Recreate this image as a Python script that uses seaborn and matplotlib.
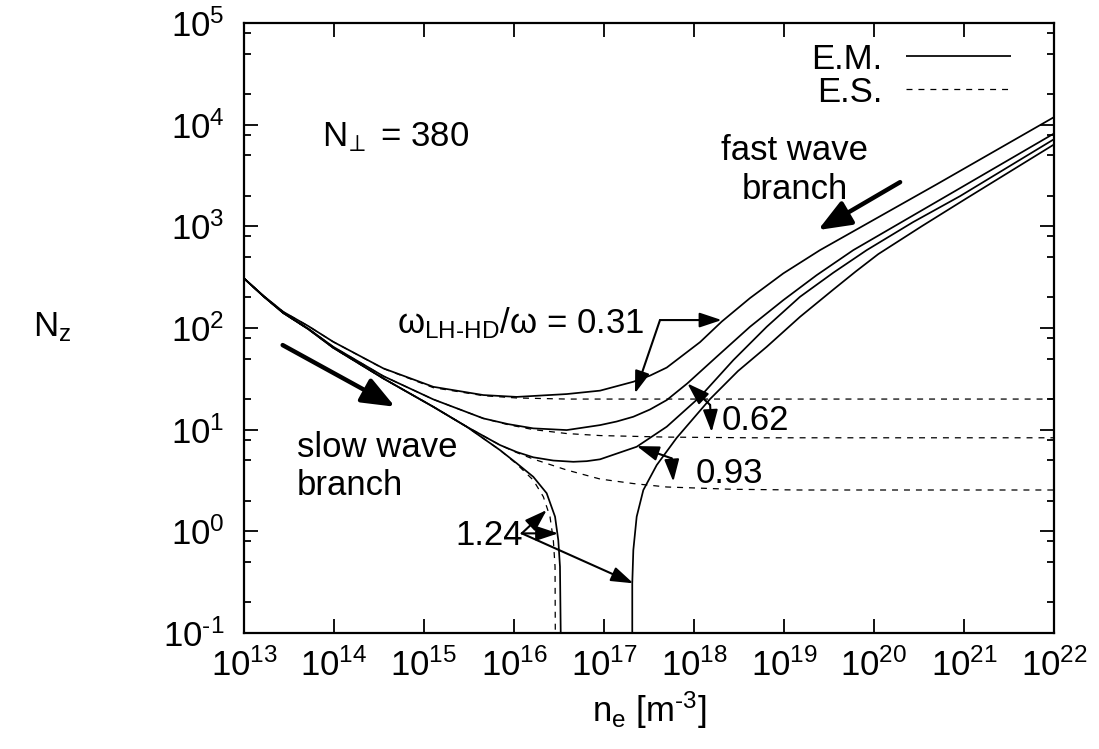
import matplotlib
matplotlib.use("Agg")
import matplotlib.pyplot as plt
from matplotlib.lines import Line2D
from matplotlib.ticker import FixedLocator, FixedFormatter, NullLocator
import seaborn as sns

# ---------------- data ----------------
# electromagnetic (E.M.) solutions, omega_LH-HD/omega = 0.31
em031_ne = [1.0e13, 1.66e13, 2.735e13, 5.18e13, 9.82e13, 3.53e14, 1.268e15, 4.56e15, 1.072e16, 3.855e16,
            9.04e16, 2.118e17, 3.24e17, 4.977e17, 1.167e18, 2.032e18, 4.188e18, 9.82e18, 2.512e19,
            5.012e20, 1.0e22]
em031_nz = [307.6, 206.0, 144.2, 104.5, 73.1, 40.1, 26.4, 21.9, 21.0, 22.4,
            24.2, 29.6, 34.0, 40.8, 72.6, 115.6, 196.8, 344.4, 583.4,
            2600.0, 11860.0]
# omega_LH-HD/omega = 0.62
em062_ne = [1.0e13, 1.66e13, 2.735e13, 5.18e13, 9.82e13, 3.53e14, 1.268e15, 4.56e15, 8.57e15, 1.637e16,
            3.855e16, 9.04e16, 1.384e17, 2.118e17, 3.24e17, 4.977e17, 8.43e17, 1.786e18, 4.188e18,
            9.82e18, 2.307e19, 5.888e19, 7.745e20, 1.0e22]
em062_nz = [307.6, 204.0, 140.9, 98.5, 65.3, 33.65, 19.86, 12.91, 11.35, 10.3,
            9.91, 11.09, 12.03, 13.4, 15.78, 19.54, 28.51, 52.12, 102.8,
            187.9, 331.1, 583.4, 2193.0, 8185.0]
# omega_LH-HD/omega = 0.93
em093_ne = [1.0e13, 1.66e13, 2.735e13, 5.18e13, 9.82e13, 3.53e14, 1.268e15, 2.98e15, 6.98e15, 1.072e16,
            1.637e16, 2.735e16, 4.56e16, 6.43e16, 9.04e16, 2.307e17, 4.977e17, 1.167e18, 2.735e18,
            6.427e18, 1.507e19, 3.532e19, 8.3e19, 2.71e20, 9.04e20, 1.0e22]
em093_nz = [307.6, 203.7, 140.3, 97.5, 63.83, 31.92, 16.79, 10.69, 7.06, 6.03,
            5.35, 4.97, 4.83, 4.90, 5.11, 6.79, 10.69, 21.04, 48.31,
            102.8, 202.8, 350.0, 583.4, 1099.0, 1982.0, 7194.0]
# omega_LH-HD/omega = 1.24, slow-wave branch
em124s_ne = [1.0e13, 1.66e13, 2.735e13, 5.18e13, 9.82e13, 3.53e14, 1.268e15, 2.98e15, 6.98e15, 1.072e16,
             1.637e16, 2.307e16, 2.858e16, 3.105e16, 3.243e16, 3.304e16]
em124s_nz = [307.6, 203.7, 140.3, 97.5, 63.83, 31.92, 16.79, 10.69, 6.30, 4.67,
             3.44, 2.37, 1.393, 0.82, 0.449, 0.1]
# omega_LH-HD/omega = 1.24, fast-wave branch
em124f_ne = [2.061e17, 2.061e17, 2.118e17, 2.307e17, 2.735e17, 3.855e17, 6.427e17, 1.507e18, 3.08e18,
             6.427e18, 1.507e19, 3.532e19, 6.25e19, 1.117e20, 3.41e20, 1.052e21, 1.0e22]
em124f_nz = [0.1, 0.308, 0.655, 1.393, 2.547, 4.487, 8.318, 20.0, 37.7,
             65.31, 128.8, 238.8, 358.9, 533.5, 1005.0, 1871.0, 6383.0]

# electrostatic (E.S.) solutions
es031_ne = [1.0e13, 1.66e13, 2.735e13, 5.18e13, 9.82e13, 3.53e14, 1.268e15, 4.56e15, 1.072e16, 3.855e16,
            1.167e18, 1.0e22]
es031_nz = [307.6, 206.0, 144.2, 104.5, 73.1, 39.9, 25.9, 21.6, 20.5, 20.0, 20.0, 20.0]
es062_ne = [1.0e13, 1.66e13, 2.735e13, 5.18e13, 9.82e13, 3.53e14, 1.268e15, 4.56e15, 8.57e15, 1.637e16,
            3.855e16, 9.04e16, 4.977e17, 4.188e18, 1.0e22]
es062_nz = [307.6, 204.0, 140.9, 98.5, 65.31, 33.65, 19.86, 12.91, 11.2, 10.02,
            9.16, 8.75, 8.45, 8.32, 8.32]
es093_ne = [1.0e13, 1.66e13, 2.735e13, 5.18e13, 9.82e13, 3.53e14, 1.268e15, 2.98e15, 6.98e15, 1.072e16,
            1.637e16, 3.855e16, 9.04e16, 2.118e17, 4.977e17, 2.735e18, 1.507e19, 1.0e22]
es093_nz = [307.6, 203.7, 140.3, 97.5, 63.83, 31.92, 16.79, 10.69, 7.06, 5.95,
            5.14, 4.01, 3.27, 2.95, 2.73, 2.59, 2.55, 2.55]
es124_ne = [1.0e13, 1.66e13, 2.735e13, 5.18e13, 9.82e13, 3.53e14, 1.268e15, 2.98e15, 6.98e15, 1.072e16,
            1.637e16, 2.118e16, 2.512e16, 2.735e16, 2.858e16, 2.877e16]
es124_nz = [307.6, 203.7, 140.3, 97.5, 63.83, 31.92, 16.79, 10.69, 6.30, 4.59,
            3.19, 2.19, 1.393, 0.82, 0.449, 0.1]

# axis ticks
x_tick_exp = [13, 14, 15, 16, 17, 18, 19, 20, 21, 22]
y_tick_exp = [-1, 0, 1, 2, 3, 4, 5]
HY = "\u2010"  # hyphen (gnuplot prints a short hyphen in exponents)
x_tick_labels = [r"$10^{%d}$" % e for e in x_tick_exp]
y_tick_labels = [r"$10^{%s}$" % (str(e).replace("-", HY)) for e in y_tick_exp]
legend_labels = ["E.M.", "E.S."]

# ---------------- styling ----------------
sns.set_style("ticks")
plt.rcParams["font.family"] = ["Liberation Sans", "DejaVu Sans"]
plt.rcParams["mathtext.default"] = "regular"
plt.rcParams["lines.scale_dashes"] = False
plt.rcParams["text.color"] = "black"
plt.rcParams["axes.labelcolor"] = "black"
plt.rcParams["xtick.color"] = "black"
plt.rcParams["ytick.color"] = "black"
FS = 25

fig = plt.figure(figsize=(10.99, 7.49), dpi=100)
ax = fig.add_axes([244 / 1099, 1 - 633 / 749, 810 / 1099, 610 / 749])
ax.set_xscale("log")
ax.set_yscale("log")

em_style = dict(color="black", linewidth=1.25, solid_capstyle="butt", solid_joinstyle="round")
es_style = dict(color="black", linewidth=0.9, linestyle=(0, (4.3, 4.3)))

for xs, ys in [(es031_ne, es031_nz), (es062_ne, es062_nz), (es093_ne, es093_nz), (es124_ne, es124_nz)]:
    sns.lineplot(x=xs, y=ys, ax=ax, estimator=None, sort=False, legend=False, **es_style)
for xs, ys in [(em031_ne, em031_nz), (em062_ne, em062_nz), (em093_ne, em093_nz),
               (em124s_ne, em124s_nz), (em124f_ne, em124f_nz)]:
    sns.lineplot(x=xs, y=ys, ax=ax, estimator=None, sort=False, legend=False, **em_style)

ax.set_xlim(1e13, 1e22)
ax.set_ylim(0.1, 1e5)

ax.xaxis.set_major_locator(FixedLocator([10.0 ** e for e in x_tick_exp]))
ax.xaxis.set_major_formatter(FixedFormatter(x_tick_labels))
ax.xaxis.set_minor_locator(NullLocator())
ax.yaxis.set_major_locator(FixedLocator([10.0 ** e for e in y_tick_exp]))
ax.yaxis.set_major_formatter(FixedFormatter(y_tick_labels))
ax.yaxis.set_minor_locator(FixedLocator([m * 10.0 ** e for e in y_tick_exp[:-1] for m in (2, 5, 8)]))

ax.tick_params(which="both", direction="in", top=True, right=True, colors="black", labelsize=FS)
ax.tick_params(which="major", length=10, width=1.3)
ax.tick_params(which="minor", length=5, width=1.3)
ax.tick_params(axis="x", which="major", pad=11)
ax.tick_params(axis="y", which="major", pad=14)
for sp in ax.spines.values():
    sp.set_linewidth(1.6)
    sp.set_color("black")
    sp.set_visible(True)

ax.set_xlabel(r"n$_e$ [m$^{%s3}$]" % HY, fontsize=FS)
ax.xaxis.set_label_coords(0.5, (633 - 710) / 610)
ax.xaxis.label.set_va("center")
ax.set_ylabel(r"N$_z$", fontsize=FS, rotation=0)
ax.yaxis.set_label_coords((52 - 244) / 810, (633 - 327) / 610)
ax.yaxis.label.set_va("center")
ax.yaxis.label.set_ha("center")

# legend
handles = [Line2D([], [], **em_style), Line2D([], [], **es_style)]
ax.legend(handles, legend_labels, loc="upper right", bbox_to_anchor=(0.9465, 0.968),
          frameon=False, markerfirst=False, handlelength=3.0, handletextpad=0.7,
          labelspacing=0.0, borderpad=0, borderaxespad=0, fontsize=FS)

# texts
ax.text(7.36e13, 6150, r"N$_{\!\perp}$ = 380", fontsize=FS, ha="left", va="baseline")
ax.text(1.32e19, 3570, "fast wave\nbranch", fontsize=FS, ha="center", va="center",
        multialignment="center", linespacing=1.22)
ax.text(3.85e13, 4.34, "slow wave\nbranch", fontsize=FS, ha="left", va="center",
        multialignment="left", linespacing=1.22)
ax.text(5.0e14, 88.5, "ω$_{LH%sHD}$/ω = 0.31" % HY, fontsize=FS, ha="left", va="baseline")
ax.text(2.03e18, 9.9, "0.62", fontsize=FS, ha="left", va="baseline")
ax.text(1.03e18, 2.97, "0.93", fontsize=FS, ha="left", va="baseline")
ax.text(2.21e15, 0.733, "1.24", fontsize=FS, ha="left", va="baseline")


def arrow(tail, head, thick=False):
    if thick:
        props = dict(arrowstyle="-|>,head_length=1.0,head_width=0.4", mutation_scale=20,
                     lw=3.2, color="black", shrinkA=0, shrinkB=0)
    else:
        props = dict(arrowstyle="-|>,head_length=0.9,head_width=0.3", mutation_scale=15,
                     lw=1.5, color="black", shrinkA=0, shrinkB=0)
    ax.annotate("", xy=head, xytext=tail, xycoords="data", textcoords="data", arrowprops=props)


# label arrows
arrow((4.19e17, 119.7), (2.03e18, 119.7))
arrow((4.19e17, 119.7), (2.21e17, 22.8))
arrow((1.51e18, 17.5), (8.43e17, 28.5))
arrow((1.51e18, 17.5), (1.57e18, 9.47))
arrow((5.65e17, 5.22), (2.31e17, 6.9))
arrow((5.65e17, 5.22), (5.89e17, 3.08))
arrow((1.22e16, 0.955), (2.31e16, 1.62))
arrow((1.22e16, 0.955), (3.10e16, 0.955))
arrow((1.22e16, 0.955), (2.12e17, 0.308))
# branch arrows
arrow((1.95e20, 2720), (2.39e19, 919), thick=True)
arrow((2.69e13, 67.9), (4.76e14, 16.8), thick=True)

fig.savefig("out.png", dpi=100, facecolor="white")
